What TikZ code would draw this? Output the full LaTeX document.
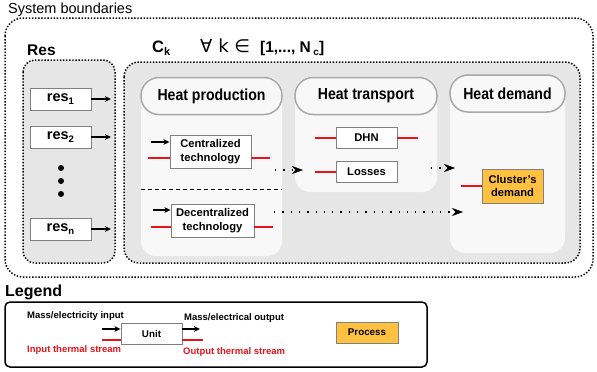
\documentclass[tikz,border=0pt]{standalone}
\usepackage{fontspec}
\setmainfont{Liberation Sans}
\newfontfamily\hdrfont[FakeStretch=0.88]{Liberation Sans}
\newfontfamily\symfont{DejaVu Sans}
\usetikzlibrary{arrows.meta}

\definecolor{panelgrey}{HTML}{E6E6E6}
\definecolor{panellight}{HTML}{F8F8F8}
\definecolor{pillborder}{HTML}{A8A8A8}
\definecolor{boxborder}{HTML}{808080}
\definecolor{streamred}{HTML}{E8141A}
\definecolor{procorange}{HTML}{FFC13F}

\tikzset{
  dotline/.style={line width=1.5pt, dash pattern=on 1.4pt off 1.7pt},
  pill/.style={draw=pillborder, line width=1.5pt, fill=panellight, rounded corners=18pt,
    minimum height=37pt, inner sep=0pt, font=\hdrfont\bfseries\fontsize{16}{18}\selectfont},
  unitbox/.style={draw=boxborder, line width=0.9pt, fill=white, inner sep=0pt, align=center,
    font=\bfseries\fontsize{11.2}{13.5}\selectfont},
  procbox/.style={unitbox, fill=procorange},
  resbox/.style={unitbox, minimum width=61pt, minimum height=22pt, font=\bfseries\fontsize{14.5}{16}\selectfont},
  arr/.style={line width=1.2pt, -{Stealth[length=6pt,width=5.5pt,inset=1.5pt]}},
  stream/.style={draw=streamred, line width=1.6pt},
  dotarr/.style={line width=1.3pt, dash pattern=on 1.3pt off 7pt,
    -{Stealth[length=11pt,width=8pt,inset=3.5pt,line width=0.5pt,sep=0pt]}},
  divider/.style={line width=0.9pt, dash pattern=on 4pt off 3pt},
  legtext/.style={anchor=base west, inner sep=0pt, font=\bfseries\fontsize{9.5}{11}\selectfont},
}

\begin{document}
\begin{tikzpicture}[x=1pt,y=-1pt]
\useasboundingbox (0,0) rectangle (597,372);

% system boundary
\draw[dotline, rounded corners=18pt, fill=white] (5,18) rectangle (593,277);
\node[anchor=base west, inner sep=0pt, font=\fontsize{14.5}{16}\selectfont] (sysb) at (8,13) {System boundaries};

% resources container
\draw[dotline, rounded corners=12pt, fill=panelgrey] (23,60) rectangle (115,263);
\node[anchor=base west, inner sep=0pt, font=\bfseries\fontsize{15.5}{17}\selectfont] (reslbl) at (27,55) {Res};

\node[resbox] (r1) at (60.5,99) {res\raisebox{-3pt}{\fontsize{9.5}{10}\selectfont 1}};
\node[resbox] (r2) at (60.5,137) {res\raisebox{-3pt}{\fontsize{9.5}{10}\selectfont 2}};
\node[resbox] (rn) at (60.5,229) {res\raisebox{-3pt}{\fontsize{9.5}{10}\selectfont n}};
\coordinate (r1end) at (111,99);
\coordinate (r2end) at (111,137);
\coordinate (rnend) at (111,229);
\draw[arr] (r1) -- (r1end);
\draw[arr] (r2) -- (r2end);
\draw[arr] (rn) -- (rnend);
\fill (61,168) circle (3);
\fill (61,181) circle (3);
\fill (61,194) circle (3);

% cluster container
\draw[dotline, rounded corners=15pt, fill=panelgrey] (124,62) rectangle (580,263);
\node[anchor=base west, inner sep=0pt] (cklbl) at (152,52)
  {{\bfseries\fontsize{16.5}{18}\selectfont C\raisebox{-3.5pt}{\fontsize{11}{11}\selectfont k}}%
   \hspace{30pt}{\symfont\fontsize{18}{20}\selectfont ∀ k ∈}\hspace{10pt}%
   {\bfseries\fontsize{15.5}{17}\selectfont [1,..., N\,\raisebox{-3.5pt}{\fontsize{10}{10}\selectfont c}]}};

% stage panels
\fill[panellight, rounded corners=15pt] (141,77) rectangle (282,256);
\fill[panellight, rounded corners=15pt] (295,77) rectangle (437,192);
\fill[panellight, rounded corners=15pt] (450,75) rectangle (565,253);
\node[pill, minimum width=141pt] (hprod) at (211.5,96) {Heat production};
\node[pill, minimum width=142pt] (htrans) at (366,96) {Heat transport};
\node[pill, minimum width=115pt] (hdem) at (507.5,93.5) {Heat demand};

% production units
\node[unitbox, minimum width=81pt, minimum height=33pt] (ctech) at (210.5,151.5) {Centralized\\technology};
\node[unitbox, minimum width=83pt, minimum height=33pt] (dtech) at (212.5,220.5) {Decentralized\\technology};
\draw[divider] (141,189) -- (282,189);

\coordinate (ctin) at (151,142);
\coordinate (ctrin) at (148,158);
\coordinate (ctrout) at (270,158);
\draw[arr] (ctin) -- (ctin -| ctech.west);
\draw[stream] (ctrin) -- (ctrin -| ctech.west);
\draw[stream] (ctrout -| ctech.east) -- (ctrout);

\coordinate (dtin) at (153,210);
\coordinate (dtrin) at (151,227);
\coordinate (dtrout) at (273,227);
\draw[arr] (dtin) -- (dtin -| dtech.west);
\draw[stream] (dtrin) -- (dtrin -| dtech.west);
\draw[stream] (dtrout -| dtech.east) -- (dtrout);

% transport units
\node[unitbox, minimum width=61pt, minimum height=21pt] (dhn) at (366.5,137.5) {DHN};
\node[unitbox, minimum width=61pt, minimum height=21pt] (loss) at (366.5,171.5) {Losses};
\coordinate (dhnrin) at (315,138);
\coordinate (dhnrout) at (418,138);
\coordinate (lossrin) at (315,172);
\draw[stream] (dhnrin) -- (dhnrin -| dhn.west);
\draw[stream] (dhnrout -| dhn.east) -- (dhnrout);
\draw[stream] (lossrin) -- (lossrin -| loss.west);

% demand unit
\node[procbox, minimum width=61pt, minimum height=34pt] (cdem) at (512.5,186) {Cluster's\\demand};
\coordinate (cdemrin) at (461,186);
\draw[stream] (cdemrin) -- (cdemrin -| cdem.west);

% flows between stages
\coordinate (ptA) at (275,170);
\coordinate (ptB) at (303,170);
\coordinate (tdA) at (431,168);
\coordinate (tdB) at (455,168);
\coordinate (pdA) at (274,212);
\coordinate (pdB) at (463,212);
\draw[dotarr] (ptA) -- (ptB);
\draw[dotarr] (tdA) -- (tdB);
\draw[dotarr] (pdA) -- (pdB);

% legend
\node[anchor=base west, inner sep=0pt, font=\bfseries\fontsize{16}{18}\selectfont] (leg) at (5,296) {Legend};
\draw[line width=1.5pt, rounded corners=5pt] (5,302) rectangle (427,367);
\node[unitbox, minimum width=61pt, minimum height=21pt, font=\bfseries\fontsize{9.8}{11}\selectfont] (lunit) at (151.5,333.5) {Unit};
\node[legtext] (lin) at (27,318) {Mass/electricity input};
\node[legtext, text=streamred] (lrin) at (27,352) {Input thermal stream};
\node[legtext] (lout) at (184,320) {Mass/electrical output};
\node[legtext, text=streamred] (lrout) at (183,354) {Output thermal stream};
\coordinate (lia) at (102,329);
\coordinate (lra) at (102,340);
\coordinate (loa) at (200,329);
\coordinate (lroa) at (203,340);
\draw[arr] (lia) -- (lia -| lunit.west);
\draw[stream] (lra) -- (lra -| lunit.west);
\draw[arr] (loa -| lunit.east) -- (loa);
\draw[stream] (lroa -| lunit.east) -- (lroa);
\node[procbox, minimum width=62pt, minimum height=21pt, font=\bfseries\fontsize{9.8}{11}\selectfont] (lproc) at (367,332.5) {Process};
\end{tikzpicture}
\end{document}
